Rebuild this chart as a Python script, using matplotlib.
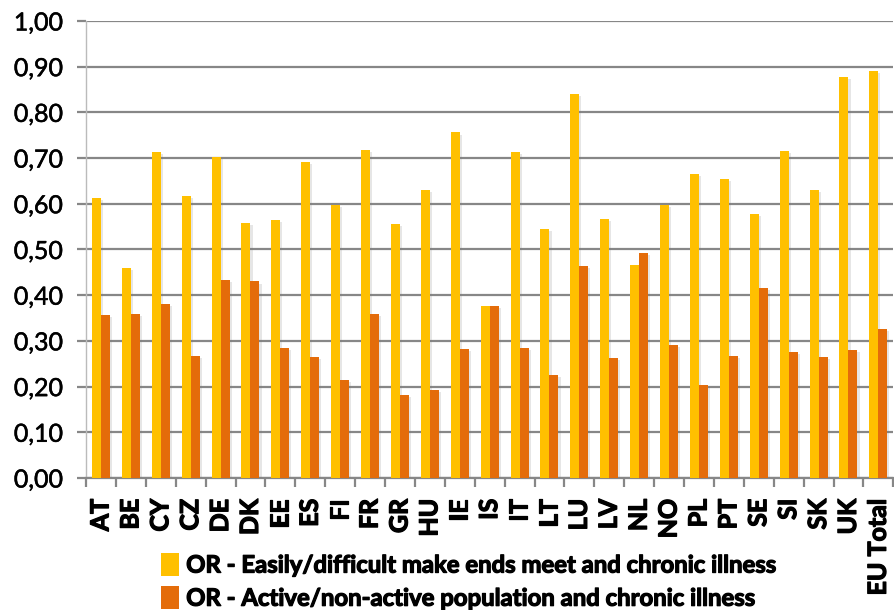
import matplotlib
matplotlib.use("Agg")
import matplotlib.pyplot as plt
import matplotlib.patheffects as pe
from matplotlib.patches import Patch
from matplotlib.ticker import FixedLocator, FuncFormatter
import numpy as np

countries = ["AT", "BE", "CY", "CZ", "DE", "DK", "EE", "ES", "FI", "FR", "GR", "HU",
             "IE", "IS", "IT", "LT", "LU", "LV", "NL", "NO", "PL", "PT", "SE", "SI",
             "SK", "UK", "EU Total"]
or_make_ends_meet = [0.613, 0.460, 0.713, 0.618, 0.702, 0.559, 0.564, 0.691, 0.598, 0.718,
                     0.555, 0.630, 0.756, 0.377, 0.713, 0.544, 0.841, 0.567, 0.467, 0.597,
                     0.665, 0.654, 0.578, 0.716, 0.630, 0.877, 0.891]
or_active = [0.356, 0.359, 0.381, 0.267, 0.433, 0.430, 0.284, 0.264, 0.214, 0.359,
             0.182, 0.193, 0.282, 0.377, 0.284, 0.226, 0.464, 0.262, 0.492, 0.291,
             0.204, 0.267, 0.416, 0.276, 0.265, 0.280, 0.327]
series_labels = ["OR - Easily/difficult make ends meet and chronic illness",
                 "OR - Active/non-active population and chronic illness"]
yticks = [0.0, 0.1, 0.2, 0.3, 0.4, 0.5, 0.6, 0.7, 0.8, 0.9, 1.0]

yellow = "#FFC000"
orange = "#E46C0A"
grid_c = "#878787"
fonts = ["Lato", "DejaVu Sans"]
# heavier strokes for the labels
heavy = [pe.withStroke(linewidth=0.9, foreground="black")]
medium = [pe.withStroke(linewidth=0.35, foreground="black")]

fig = plt.figure(figsize=(8.95, 6.10), dpi=100)
ax = fig.add_axes([0.0961, 0.2164, 0.902, 0.7492])

x = np.arange(len(countries))
w = 0.30
shadow = [pe.SimplePatchShadow(offset=(1.5, -1.5), alpha=0.18, shadow_rgbFace="#777777"), pe.Normal()]
b1 = ax.bar(x - w / 2, or_make_ends_meet, width=w, color=yellow, zorder=3)
b2 = ax.bar(x + w / 2, or_active, width=w, color=orange, zorder=3)
for b in list(b1) + list(b2):
    b.set_path_effects(shadow)

ax.set_xlim(-0.5, len(countries) - 0.5)
ax.set_ylim(0, 1.0)
ax.set_yticks(yticks)
ax.yaxis.set_major_formatter(FuncFormatter(lambda v, p: f"{v:.2f}".replace(".", ",")))
ax.yaxis.grid(True, color=grid_c, linewidth=1.6, zorder=0)
ax.set_axisbelow(True)

ax.set_xticks(x)
ax.set_xticklabels(countries, rotation=90, fontweight="bold", fontsize=18, family=fonts)
ax.tick_params(axis="x", which="major", length=0, pad=15)
ax.xaxis.set_minor_locator(FixedLocator(np.arange(-0.5, len(countries), 1.0)))
ax.tick_params(axis="x", which="minor", length=6.5, width=1.6, color=grid_c)
ax.tick_params(axis="y", length=6.5, width=1.6, color=grid_c, labelsize=18, pad=10)
for lbl in ax.get_xticklabels():
    lbl.set_path_effects(heavy)
for lbl in ax.get_yticklabels():
    lbl.set_family(fonts)
    lbl.set_path_effects(medium)

for s in ["top", "right"]:
    ax.spines[s].set_visible(False)
ax.spines["left"].set_color("#BBBBBB")
ax.spines["left"].set_linewidth(1.0)
ax.spines["bottom"].set_color(grid_c)
ax.spines["bottom"].set_linewidth(1.6)

handles = [Patch(facecolor=yellow), Patch(facecolor=orange)]
leg = fig.legend(handles, series_labels, loc="center left", bbox_to_anchor=(0.180, 0.047),
                 frameon=False, handlelength=0.75, handleheight=1.1, handletextpad=0.3,
                 labelspacing=0.4, borderaxespad=0, borderpad=0,
                 prop={"family": fonts, "weight": "bold", "size": 17.2})
for t in leg.get_texts():
    t.set_path_effects(heavy)

fig.savefig("out.png", dpi=100)
